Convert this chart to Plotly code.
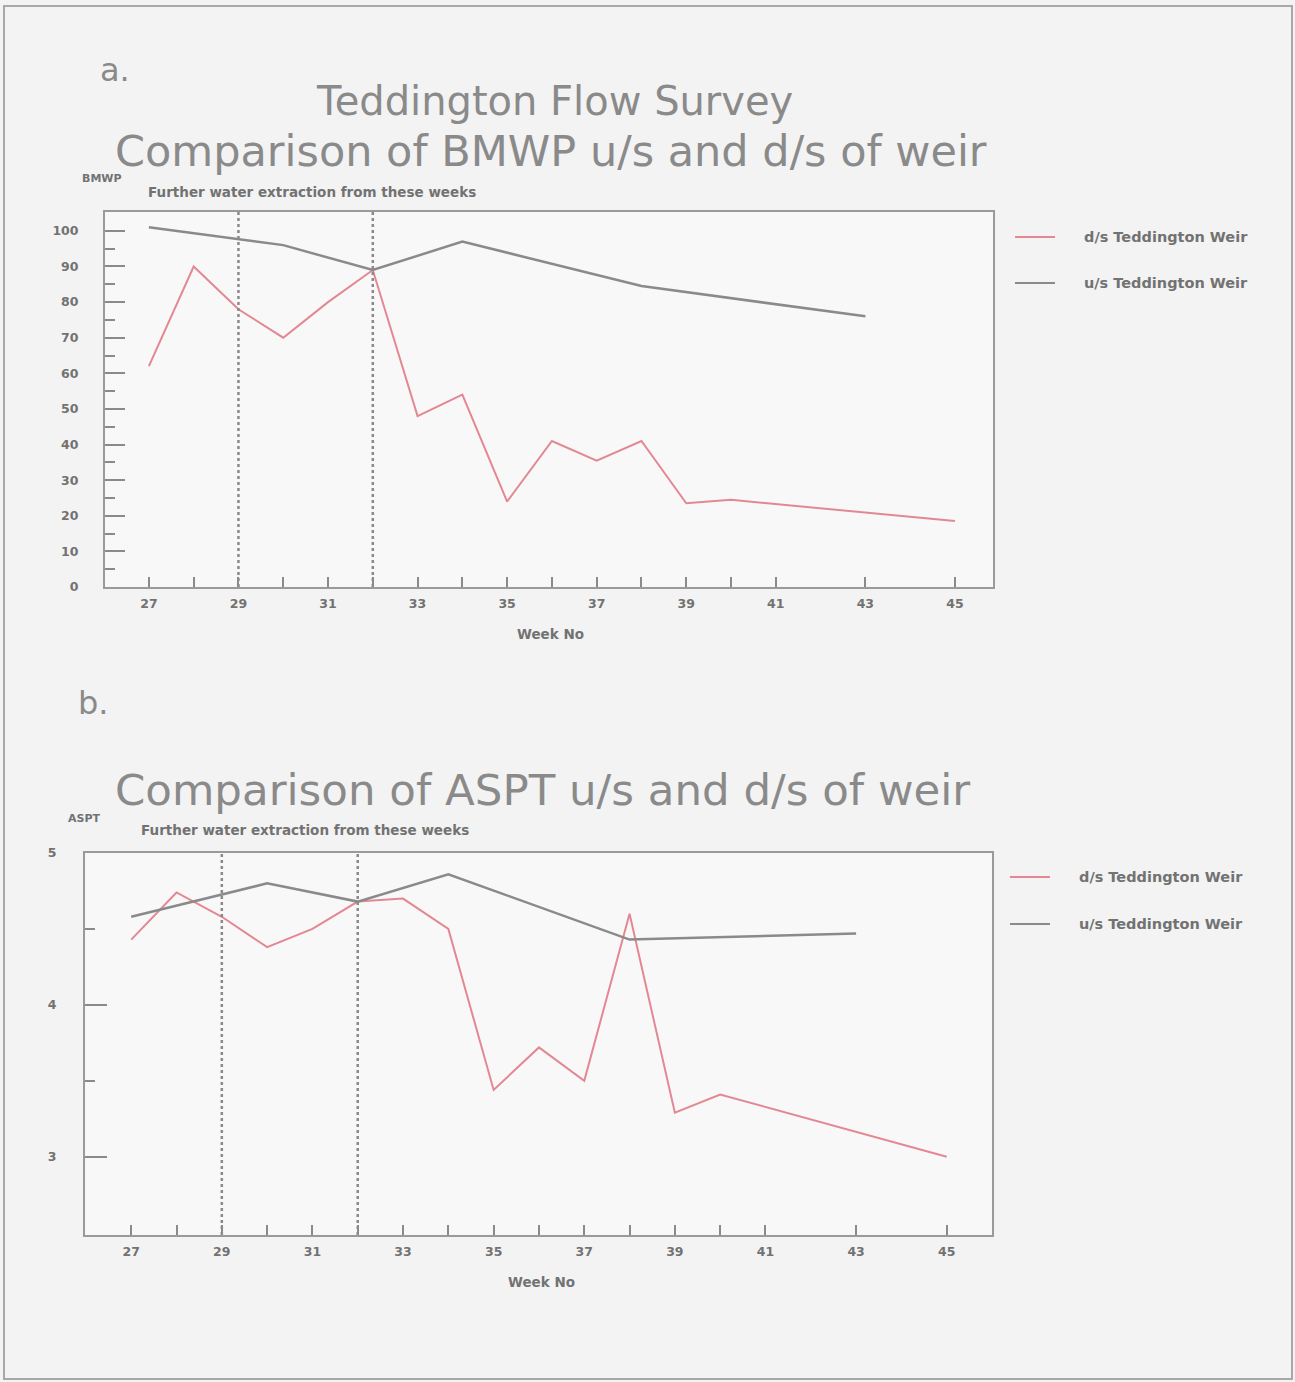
import plotly.graph_objects as go

# ---- data ----
weeks_ds = [27, 28, 29, 30, 31, 32, 33, 34, 35, 36, 37, 38, 39, 40, 45]
bmwp_ds = [62, 90, 78, 70, 80, 89, 48, 54, 24, 41, 35.5, 41, 23.5, 24.5, 18.5]
weeks_us = [27, 30, 32, 34, 38, 43]
bmwp_us = [101, 96, 89, 97, 84.5, 76]

aspt_ds = [4.43, 4.74, 4.58, 4.38, 4.50, 4.68, 4.70, 4.50, 3.44, 3.72, 3.50, 4.60, 3.29, 3.41, 3.00]
aspt_us = [4.58, 4.80, 4.68, 4.86, 4.43, 4.47]

extraction_weeks = [29, 32]

tick_weeks = [27, 28, 29, 30, 31, 32, 33, 34, 35, 36, 37, 38, 39, 40, 41, 43, 45]
tick_text = [str(w) if w % 2 == 1 else "" for w in tick_weeks]

bmwp_major = list(range(0, 101, 10))
bmwp_minor = list(range(5, 100, 10))
aspt_major = [3, 4, 5]
aspt_minor = [3.5, 4.5]

series_names = ["d/s Teddington Weir", "u/s Teddington Weir"]

# ---- styling ----
W, H = 1295, 1382
RED = "#e38893"
GREY_LINE = "#8a8a8a"
AXIS = "#9a9a9a"
TXT = "#8a8a8a"
SMALL_TXT = "#727272"
TITLE_FONT = "DejaVu Sans"
SMALL_FONT = "DejaVu Sans"


def px(x):
    return x / W


def py(y):
    return 1 - y / H


fig = go.Figure()

# panel a: BMWP
fig.add_trace(go.Scatter(x=weeks_ds, y=bmwp_ds, mode="lines", line=dict(color=RED, width=2),
                         xaxis="x", yaxis="y", showlegend=False))
fig.add_trace(go.Scatter(x=weeks_us, y=bmwp_us, mode="lines", line=dict(color=GREY_LINE, width=2.5),
                         xaxis="x", yaxis="y", showlegend=False))
# panel b: ASPT
fig.add_trace(go.Scatter(x=weeks_ds, y=aspt_ds, mode="lines", line=dict(color=RED, width=2),
                         xaxis="x2", yaxis="y2", showlegend=False))
fig.add_trace(go.Scatter(x=weeks_us, y=aspt_us, mode="lines", line=dict(color=GREY_LINE, width=2.5),
                         xaxis="x2", yaxis="y2", showlegend=False))

# dotted markers for the extraction weeks
for w in extraction_weeks:
    for xr, yr in (("x", "y"), ("x2", "y2")):
        fig.add_shape(type="line", xref=xr, yref=f"{yr} domain", x0=w, x1=w, y0=0, y1=1,
                      line=dict(color="#8a8a8a", width=2.5, dash="dot"))

tick_font = dict(family=SMALL_FONT, size=12.5, color=SMALL_TXT, weight="bold")

xaxis_common = dict(
    tickmode="array", tickvals=tick_weeks, ticktext=tick_text,
    ticks="inside", ticklen=10, tickwidth=2, tickcolor="#8a8a8a",
    showgrid=False, zeroline=False, showline=True, linecolor=AXIS, linewidth=2, mirror=True,
    tickfont=tick_font, ticklabelstandoff=4, automargin=False,
)

fig.update_layout(
    template="none",
    width=W, height=H,
    margin=dict(l=0, r=0, t=0, b=0, pad=0),
    paper_bgcolor="#f3f3f3",
    plot_bgcolor="#f8f8f8",
    showlegend=False,
    xaxis=dict(domain=[px(105), px(993)], range=[26.02, 45.85], anchor="y", **xaxis_common),
    yaxis=dict(domain=[py(587), py(212)], range=[0, 105.3], anchor="x",
               tickmode="array", tickvals=bmwp_major,
               ticks="inside", ticklen=20, tickwidth=2, tickcolor="#8a8a8a",
               minor=dict(ticks="inside", ticklen=10, tickwidth=2, tickmode="array",
                          tickvals=bmwp_minor, tickcolor="#8a8a8a", showgrid=False),
               showgrid=False, zeroline=False, showline=True, linecolor=AXIS, linewidth=2, mirror=True,
               tickfont=tick_font, ticklabelstandoff=22, automargin=False),
    xaxis2=dict(domain=[px(85), px(992)], range=[25.98, 46.0], anchor="y2", **xaxis_common),
    yaxis2=dict(domain=[py(1235), py(853)], range=[2.485, 5.0], anchor="x2",
                tickmode="array", tickvals=aspt_major,
                ticks="inside", ticklen=22, tickwidth=2, tickcolor="#8a8a8a",
                minor=dict(ticks="inside", ticklen=10, tickwidth=2, tickmode="array",
                           tickvals=aspt_minor, tickcolor="#8a8a8a", showgrid=False),
                showgrid=False, zeroline=False, showline=True, linecolor=AXIS, linewidth=2, mirror=True,
                tickfont=tick_font, ticklabelstandoff=24, automargin=False),
)

# outer frame
fig.add_shape(type="rect", xref="paper", yref="paper", x0=px(4), x1=px(1292), y0=py(1379), y1=py(6),
              line=dict(color="#a8a8a8", width=2), layer="below")

annotations = []


def text(x, y, s, size, color, family, bold=False, xanchor="left"):
    annotations.append(dict(x=px(x), y=py(y), xref="paper", yref="paper", text=s, showarrow=False,
                            xanchor=xanchor, yanchor="middle",
                            font=dict(family=family, size=size, color=color,
                                      weight="bold" if bold else "normal")))


# panel labels and titles
text(98, 70, "a.", 32, TXT, TITLE_FONT)
text(554, 101, "Teddington Flow Survey", 40, TXT, TITLE_FONT, xanchor="center")
text(551, 151, "Comparison of BMWP u/s and d/s of weir", 43, TXT, TITLE_FONT, xanchor="center")
text(76, 703, "b.", 32, TXT, TITLE_FONT)
text(542, 790, "Comparison of ASPT u/s and d/s of weir", 43.5, TXT, TITLE_FONT, xanchor="center")

# axis captions
text(80, 179, "BMWP", 11, SMALL_TXT, SMALL_FONT, bold=True)
text(146, 192, "Further water extraction from these weeks", 13.5, SMALL_TXT, SMALL_FONT, bold=True)
text(550, 634, "Week No", 13.5, SMALL_TXT, SMALL_FONT, bold=True, xanchor="center")
text(66, 818, "ASPT", 11, SMALL_TXT, SMALL_FONT, bold=True)
text(139, 830, "Further water extraction from these weeks", 13.5, SMALL_TXT, SMALL_FONT, bold=True)
text(541, 1282, "Week No", 13.5, SMALL_TXT, SMALL_FONT, bold=True, xanchor="center")

# legends drawn beside each panel
for (lx0, lx1, tx, y_first, y_second) in ((1015, 1055, 1082, 237, 283), (1010, 1050, 1077, 877, 924)):
    for name, color, yy in ((series_names[0], RED, y_first), (series_names[1], GREY_LINE, y_second)):
        fig.add_shape(type="line", xref="paper", yref="paper", x0=px(lx0), x1=px(lx1), y0=py(yy), y1=py(yy),
                      line=dict(color=color, width=2))
        text(tx, yy, name, 14.5, SMALL_TXT, SMALL_FONT, bold=True)

fig.update_layout(annotations=annotations)

fig.write_html("out.html")
